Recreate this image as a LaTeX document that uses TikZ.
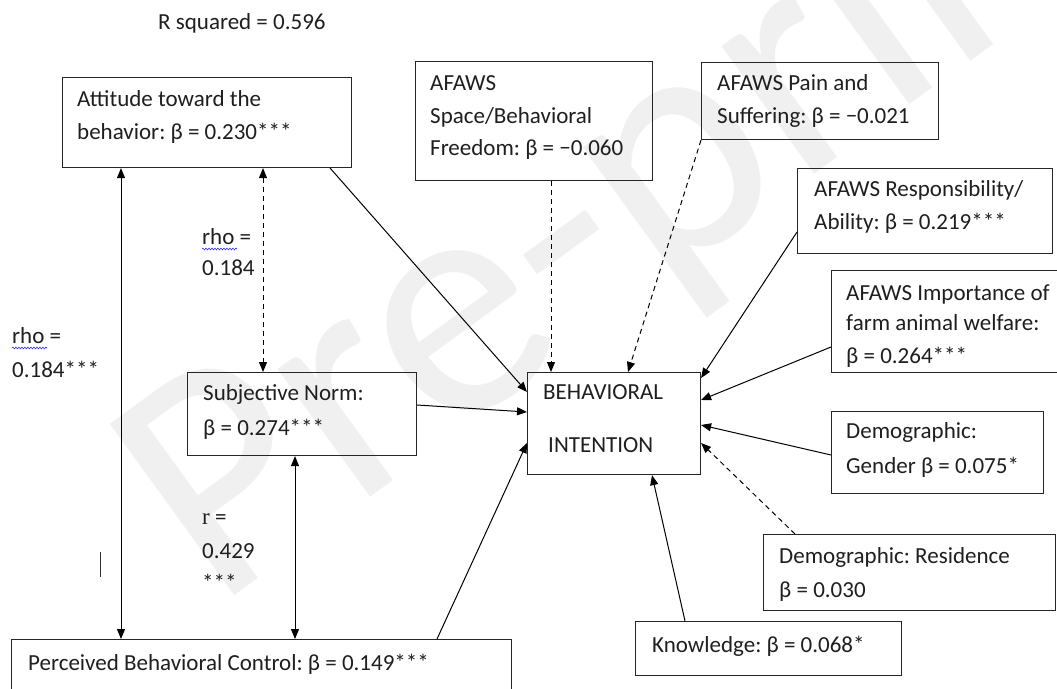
\documentclass[tikz,border=0pt]{standalone}
\usepackage{fontspec}
\setmainfont{Carlito}
\newfontfamily\serifr{Liberation Serif}
\frenchspacing
\usetikzlibrary{arrows.meta,decorations.pathmorphing}
\tikzset{
  box/.style={draw=black!85,line width=1.1pt,inner sep=0pt,anchor=north west},
  txt/.style={anchor=base west,inner sep=0pt,font=\fontsize{23}{27}\selectfont\frenchspacing,text=black!88},
  arr/.style={line width=1pt,-{Triangle[length=10pt,width=8pt]}},
  dbl/.style={line width=1pt,{Triangle[length=10pt,width=8pt]}-{Triangle[length=10pt,width=8pt]}},
  dsh/.style={dash pattern=on 5pt off 4pt},
  wavy/.style={draw=blue!80,line width=0.6pt,decorate,decoration={snake,amplitude=0.9pt,segment length=3pt}}
}
\begin{document}
\begin{tikzpicture}[x=1pt,y=-1pt]
\useasboundingbox (0,0) rectangle (1057,688);
\fill[white] (0,0) rectangle (1057,688);
\clip (0,0) rectangle (1057,688);
% faint watermark
\node[rotate=36,anchor=base west,font=\fontsize{330}{330}\selectfont,text=black!6,inner sep=0pt] (wm) at (215,610) {Pre-print};

\node[txt] (rsq) at (158,29) {R squared = 0.596};

% boxes
\node[box,minimum width=289pt,minimum height=90pt] (att) at (62,77) {};
\node[box,minimum width=237pt,minimum height=119pt] (spc) at (415,61) {};
\node[box,minimum width=237pt,minimum height=77pt] (pain) at (701,62) {};
\node[box,minimum width=255pt,minimum height=85pt] (resp) at (797,168) {};
\node[box,minimum width=240pt,minimum height=102pt] (imp) at (831,270) {};
\node[box,minimum width=173pt,minimum height=102pt] (bi) at (527,372) {};
\node[box,minimum width=212pt,minimum height=82pt] (gen) at (831,411) {};
\node[box,minimum width=292pt,minimum height=76pt] (res) at (763,534) {};
\node[box,minimum width=266pt,minimum height=54pt] (know) at (635,621) {};
\node[box,minimum width=229pt,minimum height=83pt] (sn) at (187,372) {};
\node[box,minimum width=500pt,minimum height=70pt] (pbc) at (11,639) {};

% texts
\node[txt] (att1) at (77,106) {Attitude toward the};
\node[txt] (att2) at (77,139) {behavior: β = 0.230***};
\node[txt] (spc1) at (430,90) {AFAWS};
\node[txt] (spc2) at (430,123) {Space/Behavioral};
\node[txt] (spc3) at (430,155) {Freedom: β = −0.060};
\node[txt] (pain1) at (717,90) {AFAWS Pain and};
\node[txt] (pain2) at (717,123) {Suffering: β = −0.021};
\node[txt] (resp1) at (814,196) {AFAWS Responsibility/};
\node[txt] (resp2) at (814,229) {Ability: β = 0.219***};
\node[txt] (imp1) at (846,300) {AFAWS Importance of};
\node[txt] (imp2) at (846,330) {farm animal welfare:};
\node[txt] (imp3) at (846,363) {β = 0.264***};
\node[txt] (bi1) at (543,399) {BEHAVIORAL};
\node[txt] (bi2) at (548,452) {INTENTION};
\node[txt] (gen1) at (846,438) {Demographic:};
\node[txt] (gen2) at (846,473) {Gender β = 0.075*};
\node[txt] (res1) at (779,563) {Demographic: Residence};
\node[txt] (res2) at (779,597) {β = 0.030};
\node[txt] (know1) at (652,652) {Knowledge: β = 0.068*};
\node[txt] (sn1) at (203,400) {Subjective Norm:};
\node[txt] (sn2) at (203,435) {β = 0.274***};
\node[txt] (pbc1) at (28,670) {Perceived Behavioral Control: β = 0.149***};

\node[txt] (rhoA1) at (12,343) {rho =};
\node[txt] (rhoA2) at (12,377) {0.184***};
\node[txt] (rhoB1) at (202,244) {rho =};
\node[txt] (rhoB2) at (202,275) {0.184};
\node[txt] (r1) at (202,524) {{\serifr r} =};
\node[txt] (r2) at (202,558) {0.429};
\node[txt] (r3) at (202,590) {***};
\draw[wavy] (rhoA1.base west) ++(0,5) -- ++(35,0);
\draw[wavy] (rhoB1.base west) ++(0,5) -- ++(35,0);
\coordinate (cur) at (100,552);
\draw[line width=1pt,black!80] (cur) -- ++(0,25);

% connectors
\draw[dbl] ([xshift=59pt]att.south west) -- ([xshift=110pt]pbc.north west);
\draw[dbl,dsh] ([xshift=201pt]att.south west) -- ([xshift=76pt]sn.north west);
\draw[dbl] ([xshift=108pt]sn.south west) -- ([xshift=284pt]pbc.north west);
\draw[arr] ([xshift=-22pt]att.south east) -- ([yshift=-20pt]bi.north west);
\draw[arr] ([yshift=-33pt]sn.north east) -- ([yshift=-40pt]bi.north west);
\draw[arr] ([xshift=426pt]pbc.north west) -- ([yshift=-71pt]bi.north west);
\draw[arr,dsh] ([xshift=136pt]spc.south west) -- ([xshift=24pt]bi.north west);
\draw[arr,dsh] (pain.south west) -- ([xshift=101pt]bi.north west);
\draw[arr] ([yshift=-64pt]resp.north west) -- ([yshift=-6pt]bi.north east);
\draw[arr] ([yshift=-77pt]imp.north west) -- ([yshift=-28pt]bi.north east);
\draw[arr] ([yshift=-44pt]gen.north west) -- ([yshift=-53pt]bi.north east);
\draw[arr,dsh] ([xshift=32pt]res.north west) -- ([yshift=-71pt]bi.north east);
\draw[arr] ([xshift=50pt]know.north west) -- ([xshift=125pt]bi.south west);
\end{tikzpicture}
\end{document}
